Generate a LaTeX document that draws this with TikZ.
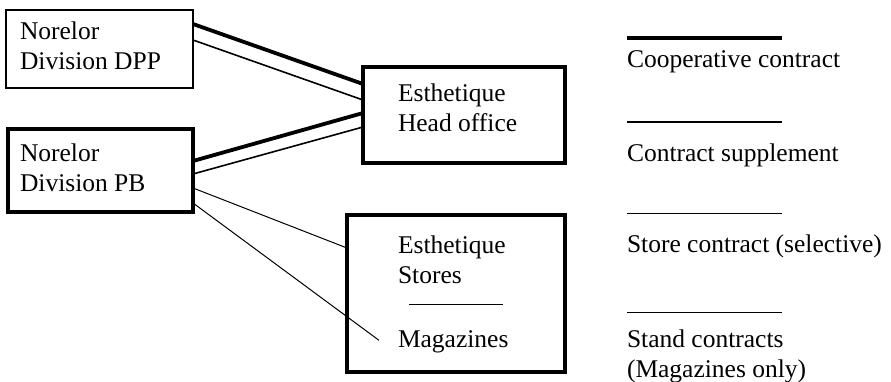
\documentclass[tikz,border=0pt]{standalone}
\usepackage{fontspec}
\setmainfont{Liberation Serif}
\usetikzlibrary{calc}
\begin{document}
\begin{tikzpicture}[x=1pt,y=-1pt,
  every node/.style={font=\fontsize{25.5}{30}\selectfont},
  unitbox/.style={draw, rectangle, inner sep=0pt, outer sep=0pt},
  thinbox/.style={unitbox, line width=1.5pt},
  heavybox/.style={unitbox, line width=3.5pt},
  label/.style={inner sep=0pt, outer sep=0pt, anchor=base west, align=left},
  coop/.style={line width=3.8pt},
  suppl/.style={line width=1.6pt},
  storeline/.style={line width=1pt},
  standline/.style={line width=1pt}]
  \useasboundingbox (0,0) rectangle (891,382);

  % organisation boxes
  \node[thinbox,  minimum width=187, minimum height=78]  (dpp) at (99.5,49) {};
  \node[heavybox, minimum width=185, minimum height=83]  (pb)  at (100.5,170.5) {};
  \node[heavybox, minimum width=202, minimum height=96]  (ho)  at (464,115) {};
  \node[heavybox, minimum width=218, minimum height=157] (st)  at (456,293.5) {};

  % box captions (placed on the baseline of their last line)
  \node[label] (tdpp) at (20,70)   {Norelor\\Division DPP};
  \node[label] (tpb)  at (20,192)  {Norelor\\Division PB};
  \node[label] (tho)  at (398,132) {Esthetique\\Head office};
  \node[label] (tst)  at (398,283) {Esthetique\\Stores};
  \node[label] (mag)  at (398,347) {Magazines};
  \draw[line width=1pt] (409,304) -- (503,304);

  % contracts between the parties
  \draw[coop]      ($(dpp.east)+(0,-25)$) -- ($(ho.west)+(0,-31)$);
  \draw[suppl]     ($(dpp.east)+(0,-9)$)  -- ($(ho.west)+(0,-15)$);
  \draw[coop]      ($(pb.east)+(0,-9.5)$) -- ($(ho.west)+(0,-2)$);
  \draw[suppl]     ($(pb.east)+(0,3.5)$)  -- ($(ho.west)+(0,12)$);
  \draw[storeline] ($(pb.east)+(0,17.5)$) -- ($(st.west)+(0,-45.5)$);
  \draw[standline] ($(pb.east)+(0,32.5)$) -- ($(mag.west)+(-19,-1)$);

  % legend
  \draw[coop]      (627,38)  -- (782,38);
  \node[label] (lcoop)  at (627,68)  {Cooperative contract};
  \draw[suppl]     (627,122) -- (782,122);
  \node[label] (lsuppl) at (627,162) {Contract supplement};
  \draw[storeline] (627,213) -- (782,213);
  \node[label] (lstore) at (627,252) {Store contract (selective)};
  \draw[standline] (627,312) -- (782,312);
  \node[label] (lstand) at (627,377) {Stand contracts\\(Magazines only)};
\end{tikzpicture}
\end{document}
